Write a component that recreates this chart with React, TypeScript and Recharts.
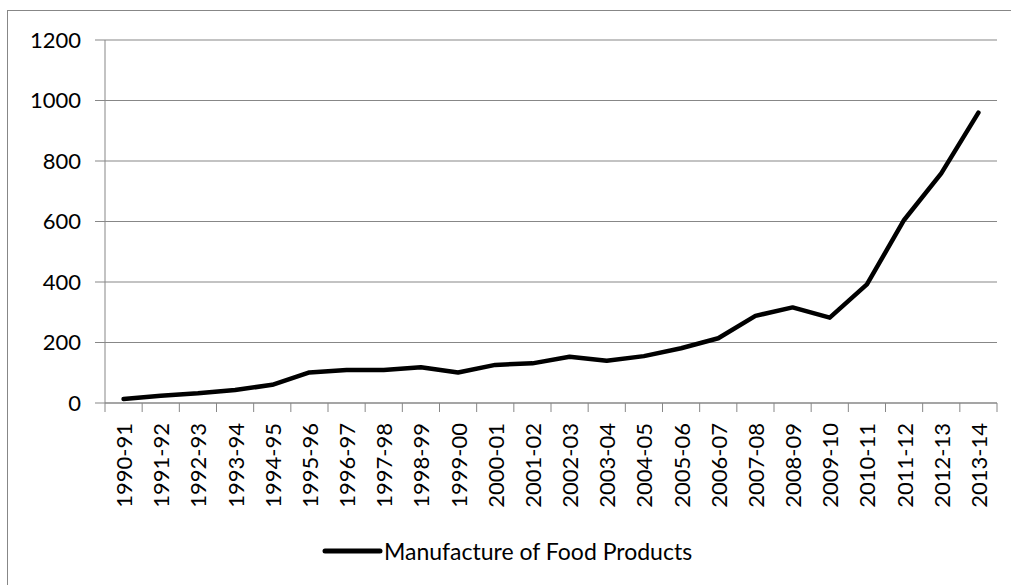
import { LineChart, Line, XAxis, YAxis, CartesianGrid } from 'recharts';

const YEARS = [
  '1990-91', '1991-92', '1992-93', '1993-94', '1994-95', '1995-96', '1996-97', '1997-98',
  '1998-99', '1999-00', '2000-01', '2001-02', '2002-03', '2003-04', '2004-05', '2005-06',
  '2006-07', '2007-08', '2008-09', '2009-10', '2010-11', '2011-12', '2012-13', '2013-14',
];

const FOOD_PRODUCTS = [
  13, 24, 32, 43, 60, 101, 109, 109, 118, 101, 126, 131,
  153, 140, 155, 181, 214, 288, 316, 282, 392, 605, 759, 960,
];

const Y_TICKS = [0, 200, 400, 600, 800, 1000, 1200];

const SERIES_NAME = 'Manufacture of Food Products';

const FONT = 'Lato, "Open Sans", sans-serif';
const GREY = '#878787';

const WIDTH = 1011;
const HEIGHT = 585;
const PLOT_LEFT = 105;
const PLOT_RIGHT = 997;
const BAND = (PLOT_RIGHT - PLOT_LEFT) / YEARS.length;

const data = YEARS.map((year, i) => ({ year, value: FOOD_PRODUCTS[i] }));

// Excel-style category tick: tick marks sit between categories, label rotated up
function YearTick(props: any) {
  const { x, y, payload, index } = props;
  const left = x - BAND / 2;
  const isLast = index === YEARS.length - 1;
  return (
    <g>
      <line x1={left} y1={y} x2={left} y2={y + 9} stroke={GREY} strokeWidth={1} />
      {isLast && (
        <line x1={left + BAND} y1={y} x2={left + BAND} y2={y + 9} stroke={GREY} strokeWidth={1} />
      )}
      <text
        x={x}
        y={y + 20}
        transform={`rotate(-90, ${x}, ${y + 20})`}
        textAnchor="end"
        dominantBaseline="central"
        fontFamily={FONT}
        fontSize={22}
        fill="#000"
      >
        {payload.value}
      </text>
    </g>
  );
}

export default function App() {
  return (
    <div style={{ position: 'relative', width: WIDTH, height: HEIGHT, overflow: 'hidden' }}>
      <style>{`body{margin:0;overflow:hidden;background:#fff}`}</style>
      <div
        style={{
          position: 'absolute',
          left: 7,
          top: 10,
          width: 1030,
          height: 620,
          border: `1px solid ${GREY}`,
          boxSizing: 'border-box',
        }}
      />
      <div style={{ position: 'absolute', left: 0, top: 0 }}>
        <LineChart
          width={WIDTH}
          height={HEIGHT}
          data={data}
          margin={{ top: 40, right: WIDTH - PLOT_RIGHT, left: 0, bottom: 0 }}
        >
          <CartesianGrid vertical={false} stroke={GREY} strokeWidth={1} />
          <XAxis
            dataKey="year"
            height={182}
            padding={{ left: BAND / 2, right: BAND / 2 }}
            axisLine={{ stroke: GREY }}
            tickLine={false}
            tickSize={0}
            tickMargin={0}
            interval={0}
            tick={<YearTick />}
          />
          <YAxis
            width={PLOT_LEFT}
            domain={[0, 1200]}
            ticks={Y_TICKS}
            interval={0}
            axisLine={{ stroke: GREY }}
            tickLine={{ stroke: GREY }}
            tickSize={10}
            tickMargin={14}
            tick={{ fontFamily: FONT, fontSize: 22, fill: '#000' }}
          />
          <Line
            type="linear"
            dataKey="value"
            name={SERIES_NAME}
            stroke="#000"
            strokeWidth={4.5}
            strokeLinecap="round"
            strokeLinejoin="round"
            dot={false}
            isAnimationActive={false}
          />
        </LineChart>
      </div>
      <div
        style={{
          position: 'absolute',
          left: 322,
          top: 536,
          height: 30,
          display: 'flex',
          alignItems: 'center',
          fontFamily: FONT,
          fontSize: 23,
          color: '#000',
          whiteSpace: 'nowrap',
        }}
      >
        <svg width={62} height={10} style={{ display: 'block' }}>
          <line x1={3} y1={5} x2={58} y2={5} stroke="#000" strokeWidth={5} strokeLinecap="round" />
        </svg>
        <span>{SERIES_NAME}</span>
      </div>
    </div>
  );
}
